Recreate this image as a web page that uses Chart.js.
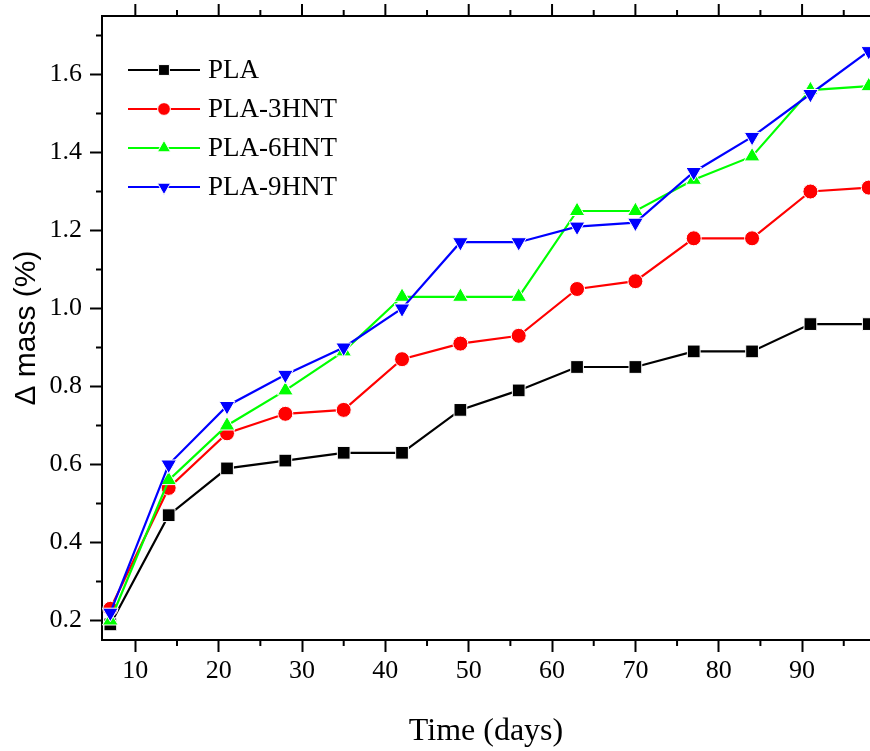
<!DOCTYPE html>
<html><head><meta charset="utf-8">
<script src="https://cdn.jsdelivr.net/npm/chart.js@4/dist/chart.umd.min.js"></script>
<style>html,body{margin:0;padding:0;background:#fff;overflow:hidden;} #wrap{width:880px;height:751px;}</style>
</head><body><div id="wrap"><canvas id="c" width="880" height="751"></canvas></div>
<script>
const days = [7,14,21,28,35,42,49,56,63,70,77,84,91,98];
const seriesNames = ['PLA','PLA-3HNT','PLA-6HNT','PLA-9HNT'];
const massPLA  = [0.19,0.47,0.59,0.61,0.63,0.63,0.74,0.79,0.85,0.85,0.89,0.89,0.96,0.96];
const mass3HNT = [0.23,0.54,0.68,0.73,0.74,0.87,0.91,0.93,1.05,1.07,1.18,1.18,1.30,1.31];
const mass6HNT = [0.20,0.56,0.70,0.79,0.89,1.03,1.03,1.03,1.25,1.25,1.33,1.39,1.56,1.57];
const mass9HNT = [0.22,0.60,0.75,0.83,0.90,1.00,1.17,1.17,1.21,1.22,1.35,1.44,1.55,1.66];
const xTicks = [10,20,30,40,50,60,70,80,90];
const xMinorTicks = [15,25,35,45,55,65,75,85,95];
const yTicks = [0.2,0.4,0.6,0.8,1.0,1.2,1.4,1.6];
const yMinorTicks = [0.3,0.5,0.7,0.9,1.1,1.3,1.5,1.7];
const xTitle = 'Time (days)';
const yTitle = '\u0394 mass (%)';

const colors = ['#000000','#ff0000','#00ff00','#0000ff'];
const styles = [
  {pointStyle:'rect', radius:9, rotation:0},
  {pointStyle:'circle', radius:7.5, rotation:0},
  {pointStyle:'triangle', radius:9, rotation:0},
  {pointStyle:'triangle', radius:9, rotation:180}
];
const allSeries = [massPLA, mass3HNT, mass6HNT, mass9HNT];

const datasets = allSeries.map((vals, i) => ({
  label: seriesNames[i],
  data: days.map((d, j) => ({x: d, y: vals[j]})),
  borderColor: colors[i],
  backgroundColor: colors[i],
  borderWidth: 2.2,
  pointStyle: styles[i].pointStyle,
  pointRadius: styles[i].radius,
  pointRotation: styles[i].rotation,
  pointBackgroundColor: colors[i],
  pointBorderColor: '#ffffff',
  pointBorderWidth: 1,
  tension: 0,
  clip: false,
  order: 4 - i
}));

const serif = '"Liberation Serif", "DejaVu Serif", serif';
const sans = '"Liberation Sans", Arial, sans-serif';

const framePlugin = {
  id: 'frame',
  afterDraw(chart) {
    const ctx = chart.ctx;
    const xs = chart.scales.x, ys = chart.scales.y;
    const a = chart.chartArea;
    ctx.save();
    ctx.strokeStyle = '#000';
    ctx.lineWidth = 2;
    ctx.beginPath();
    ctx.moveTo(a.left - 1, a.top);
    ctx.lineTo(a.right + 10, a.top);
    ctx.stroke();
    ctx.beginPath();
    ctx.moveTo(a.right - 1, a.bottom);
    ctx.lineTo(a.right + 10, a.bottom);
    ctx.stroke();
    xTicks.forEach(v => {
      const px = xs.getPixelForValue(v);
      ctx.beginPath(); ctx.moveTo(px, a.top); ctx.lineTo(px, a.top - 12); ctx.stroke();
    });
    xMinorTicks.forEach(v => {
      const px = xs.getPixelForValue(v);
      ctx.beginPath(); ctx.moveTo(px, a.bottom); ctx.lineTo(px, a.bottom + 6); ctx.stroke();
      ctx.beginPath(); ctx.moveTo(px, a.top); ctx.lineTo(px, a.top - 6); ctx.stroke();
    });
    yMinorTicks.forEach(v => {
      const py = ys.getPixelForValue(v);
      ctx.beginPath(); ctx.moveTo(a.left, py); ctx.lineTo(a.left - 6, py); ctx.stroke();
    });
    ctx.restore();

    // legend
    ctx.save();
    const lx0 = a.left + 26, lx1 = a.left + 98, mx = a.left + 62, tx = a.left + 106;
    const rowY0 = a.top + 54, rowGap = 39;
    chart.data.datasets.forEach((ds, i) => {
      const y = rowY0 + i * rowGap;
      ctx.strokeStyle = ds.borderColor;
      ctx.lineWidth = 2;
      ctx.beginPath(); ctx.moveTo(lx0, y); ctx.lineTo(lx1, y); ctx.stroke();
      ctx.fillStyle = ds.pointBackgroundColor;
      ctx.strokeStyle = '#ffffff';
      ctx.lineWidth = 1;
      Chart.helpers.drawPoint(ctx, {pointStyle: ds.pointStyle, radius: ds.pointRadius * 0.85, rotation: ds.pointRotation, borderWidth: 1}, mx, y);
      ctx.fillStyle = '#000';
      ctx.font = '27px ' + serif;
      ctx.textBaseline = 'middle';
      ctx.textAlign = 'left';
      ctx.fillText(ds.label, tx, y + 1);
    });
    ctx.restore();
  }
};

new Chart(document.getElementById('c'), {
  type: 'line',
  data: { datasets },
  options: {
    responsive: false,
    devicePixelRatio: 1,
    animation: false,
    events: [],
    layout: { padding: { left: 0, top: 16, right: 1, bottom: 0 } },
    plugins: { legend: { display: false }, tooltip: { enabled: false } },
    scales: {
      x: {
        type: 'linear', min: 6, max: 98.15,
        afterFit(s) { s.height = 111; s.paddingLeft = 0; s.paddingRight = 0; },
        afterBuildTicks(s) { s.ticks = xTicks.map(v => ({value: v})); },
        border: { display: true, color: '#000', width: 2 },
        grid: { drawOnChartArea: false, drawTicks: true, tickLength: 12, tickColor: '#000', tickWidth: 2 },
        ticks: { color: '#000', font: { family: serif, size: 26 }, padding: 4, maxRotation: 0, autoSkip: false,
                 callback: v => String(v) },
        title: { display: true, text: xTitle, color: '#000', font: { family: serif, size: 32 }, padding: { top: 0, bottom: 0 } }
      },
      y: {
        type: 'linear', min: 0.15, max: 1.75,
        afterFit(s) { s.width = 102; s.paddingTop = 0; s.paddingBottom = 0; },
        afterBuildTicks(s) { s.ticks = yTicks.map(v => ({value: v})); },
        border: { display: true, color: '#000', width: 2 },
        grid: { drawOnChartArea: false, drawTicks: true, tickLength: 12, tickColor: '#000', tickWidth: 2 },
        ticks: { color: '#000', font: { family: serif, size: 26 }, padding: 8, autoSkip: false,
                 callback: v => Number(v).toFixed(1) },
        title: { display: true, text: yTitle, color: '#000', font: { family: sans, size: 30 }, padding: { top: 9, bottom: 0 } }
      }
    }
  },
  plugins: [framePlugin]
});
</script>
</body></html>
